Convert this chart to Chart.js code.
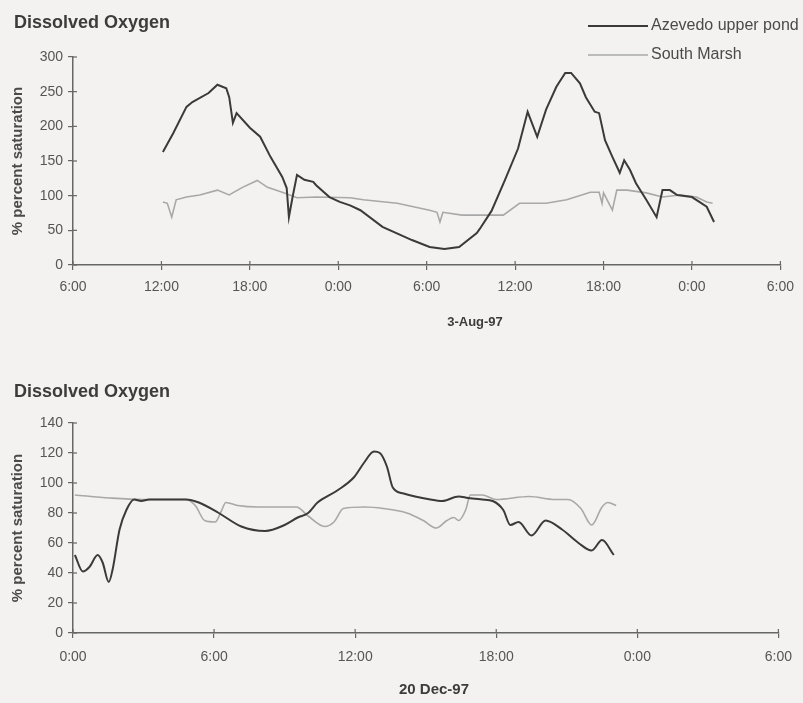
<!DOCTYPE html>
<html>
<head>
<meta charset="utf-8">
<script src="https://cdn.jsdelivr.net/npm/chart.js@4.4.1/dist/chart.umd.min.js"></script>
<style>
    html, body { margin: 0; padding: 0; background: #f3f2f0; }
    #page { position: relative; width: 803px; height: 703px; overflow: hidden; }
    #augWrap { position: absolute; left: 0; top: 0; }
    #decWrap { position: absolute; left: 0; top: 345px; }
</style>
</head>
<body>
<div id="page">
    <div id="augWrap"><canvas id="augChart" width="803" height="345"></canvas></div>
    <div id="decWrap"><canvas id="decChart" width="803" height="358"></canvas></div>
</div>
<script>
// hours counted from 0:00 of the first day shown
const augPondHours  = [12.1, 12.8, 13.7, 14.1, 15.2, 15.8, 16.4, 16.6, 16.85, 17.1, 18.0, 18.7, 19.4, 20.2, 20.5, 20.65, 20.9, 21.2, 21.7, 22.3, 22.5, 23.4, 24.1, 24.8, 25.5, 27.0, 29.0, 30.2, 31.2, 32.2, 33.4, 33.6, 34.4, 35.3, 36.2, 36.85, 37.5, 38.1, 38.8, 39.4, 39.8, 40.4, 40.8, 41.4, 41.7, 42.1, 42.6, 43.1, 43.4, 43.8, 44.2, 44.9, 45.6, 46.0, 46.5, 47.0, 48.0, 49.0, 49.5];
const augPondDO     = [163, 190, 228, 235, 248, 260, 255, 242, 205, 219, 198, 185, 156, 127, 111, 69, 98, 130, 123, 120, 115, 98, 91, 86, 79, 55, 36, 26, 23, 26, 46, 52, 78, 122, 168, 221, 185, 224, 257, 277, 277, 262, 242, 221, 219, 180, 156, 133, 151, 137, 118, 94, 69, 108, 108, 101, 98, 84, 62];
const augMarshHours = [12.1, 12.4, 12.7, 13.0, 13.7, 14.6, 15.8, 16.6, 17.5, 18.5, 19.2, 20.2, 21.2, 22.5, 24.8, 25.7, 28.0, 30.2, 30.7, 30.9, 31.1, 32.4, 34.3, 35.2, 36.3, 38.1, 39.5, 41.1, 41.7, 41.9, 42.0, 42.6, 42.9, 43.6, 44.9, 46.0, 47.2, 48.3, 49.0, 49.4];
const augMarshDO    = [91, 89, 69, 94, 98, 101, 108, 101, 112, 122, 112, 105, 97, 98, 97, 94, 89, 79, 76, 62, 76, 72, 72, 72, 89, 89, 94, 105, 105, 89, 104, 79, 108, 108, 104, 98, 101, 98, 91, 89];

const decPondHours  = [0.08, 0.42, 0.7, 1.05, 1.26, 1.52, 1.68, 1.98, 2.27, 2.6, 2.9, 3.24, 4.4, 4.8, 5.35, 6.2, 7.16, 8.17, 9.0, 9.56, 10.0, 10.4, 11.24, 11.96, 12.4, 12.8, 13.05, 13.35, 13.6, 14.06, 15.2, 15.7, 16.4, 16.8, 17.4, 17.85, 18.3, 18.6, 18.95, 19.5, 20.1, 20.8, 21.5, 22.06, 22.5, 23.0];
const decPondDO     = [52, 41, 44, 52, 47, 34, 42, 69, 82, 89, 88, 89, 89, 89, 87, 80, 71, 68, 72, 77, 80, 87, 95, 104, 114, 121, 120, 111, 97, 93, 89, 88, 91, 90, 89, 88, 82, 72, 74, 65, 75, 69, 60, 55, 62, 52];
const decMarshHours = [0.08, 1.56, 2.95, 4.8, 5.2, 5.6, 6.05, 6.3, 6.5, 7.0, 7.9, 9.5, 10.0, 10.7, 11.1, 11.5, 12.4, 13.2, 14.2, 14.9, 15.45, 15.9, 16.2, 16.4, 16.7, 16.9, 17.4, 18.0, 19.4, 20.5, 21.05, 21.6, 22.06, 22.5, 22.75, 23.1];
const decMarshDO    = [92, 90, 89, 89, 85, 75, 74, 81, 87, 85, 84, 84, 78, 71, 74, 83, 84, 83, 80, 75, 70, 75, 77, 75, 82, 92, 92, 89, 91, 89, 89, 83, 72, 84, 87, 85];

const seriesNames = ['Azevedo upper pond', 'South Marsh'];
const pondColor = '#3a3a3a';
const marshColor = '#a8a8a8';
const textColor = '#4a4a4a';
const fontFamily = '"Liberation Sans", Arial, sans-serif';

function toPoints(hours, values) {
    return hours.map((h, i) => ({ x: h, y: values[i] }));
}

function hourLabel(value) {
    return (value % 24) + ':00';
}

// labels drawn straight onto the canvas: title, date under the axis, legend
const decorations = {
    id: 'decorations',
    afterDraw(chart, args, opts) {
        const ctx = chart.ctx;
        ctx.save();
        ctx.fillStyle = '#3c3c3c';
        ctx.textBaseline = 'middle';

        ctx.font = 'bold 18px ' + fontFamily;
        ctx.textAlign = 'left';
        ctx.fillText(opts.title, 14, opts.titleY);

        ctx.font = 'bold ' + opts.dateSize + 'px ' + fontFamily;
        ctx.textAlign = 'center';
        ctx.fillText(opts.dateText, opts.dateX, opts.dateY);

        if (opts.legend) {
            ctx.font = '16px ' + fontFamily;
            ctx.textAlign = 'left';
            ctx.fillStyle = textColor;
            chart.data.datasets.forEach((ds, i) => {
                const y = 26 + i * 29;
                ctx.strokeStyle = ds.borderColor;
                ctx.lineWidth = ds.borderWidth;
                ctx.beginPath();
                ctx.moveTo(588, y);
                ctx.lineTo(648, y);
                ctx.stroke();
                ctx.fillText(ds.label, 651, y);
            });
        }

        // tick marks poke into the plot area as well
        const area = chart.chartArea;
        ctx.strokeStyle = '#666';
        ctx.lineWidth = 1.2;
        const xs = chart.scales.x;
        xs.ticks.forEach((t, i) => {
            const px = xs.getPixelForTick(i);
            ctx.beginPath();
            ctx.moveTo(px, area.bottom - 4);
            ctx.lineTo(px, area.bottom);
            ctx.stroke();
        });
        const ys = chart.scales.y;
        ys.ticks.forEach((t, i) => {
            const py = ys.getPixelForTick(i);
            ctx.beginPath();
            ctx.moveTo(area.left, py);
            ctx.lineTo(area.left + 4, py);
            ctx.stroke();
        });
        ctx.restore();
    }
};

function makeChart(canvasId, cfg) {
    const ctx = document.getElementById(canvasId).getContext('2d');
    return new Chart(ctx, {
        type: 'line',
        data: {
            datasets: [{
                label: seriesNames[0],
                data: toPoints(cfg.pondHours, cfg.pondValues),
                borderColor: pondColor,
                borderWidth: 2,
                pointRadius: 0,
                tension: cfg.tension,
                cubicInterpolationMode: cfg.tension ? 'monotone' : 'default'
            }, {
                label: seriesNames[1],
                data: toPoints(cfg.marshHours, cfg.marshValues),
                borderColor: marshColor,
                borderWidth: 1.6,
                pointRadius: 0,
                tension: cfg.tension,
                cubicInterpolationMode: cfg.tension ? 'monotone' : 'default'
            }]
        },
        options: {
            responsive: false,
            animation: false,
            layout: { padding: cfg.padding },
            plugins: {
                legend: { display: false },
                tooltip: { enabled: false },
                decorations: cfg.decorations
            },
            scales: {
                x: {
                    type: 'linear',
                    min: cfg.xMin,
                    max: cfg.xMax,
                    afterFit: s => { s.height = 30; },
                    afterBuildTicks: s => {
                        s.ticks = [];
                        for (let v = cfg.xMin; v <= cfg.xMax; v += 6) s.ticks.push({ value: v });
                    },
                    ticks: {
                        callback: hourLabel,
                        color: '#555',
                        padding: cfg.xTickPad,
                        maxRotation: 0,
                        font: { family: fontFamily, size: 14 }
                    },
                    grid: { drawOnChartArea: false, tickLength: 5, color: '#666', lineWidth: 1.2 },
                    border: { color: '#666', width: 1.5 }
                },
                y: {
                    min: 0,
                    max: cfg.yMax,
                    afterFit: s => { s.width = 73; },
                    ticks: {
                        stepSize: cfg.yStep,
                        color: '#555',
                        padding: 5,
                        font: { family: fontFamily, size: 14 }
                    },
                    title: {
                        display: true,
                        text: '% percent saturation',
                        color: textColor,
                        padding: { top: 9, bottom: 0 },
                        font: { family: fontFamily, size: 15, weight: 'bold' }
                    },
                    grid: { drawOnChartArea: false, tickLength: 5, color: '#666', lineWidth: 1.2 },
                    border: { color: '#666', width: 1.5 }
                }
            }
        },
        plugins: [decorations]
    });
}

document.addEventListener('DOMContentLoaded', function() {
    makeChart('augChart', {
        pondHours: augPondHours, pondValues: augPondDO,
        marshHours: augMarshHours, marshValues: augMarshDO,
        tension: 0,
        xMin: 6, xMax: 54, yMax: 300, yStep: 50, xTickPad: 9,
        padding: { left: 0, right: 22, top: 57, bottom: 50 },
        decorations: { title: 'Dissolved Oxygen', titleY: 23, dateText: '3-Aug-97', dateSize: 13, dateX: 475, dateY: 322, legend: true }
    });

    makeChart('decChart', {
        pondHours: decPondHours, pondValues: decPondDO,
        marshHours: decMarshHours, marshValues: decMarshDO,
        tension: 0.4,
        xMin: 0, xMax: 30, yMax: 140, yStep: 20, xTickPad: 11,
        padding: { left: 0, right: 18, top: 78, bottom: 40 },
        decorations: { title: 'Dissolved Oxygen', titleY: 47, dateText: '20 Dec-97', dateSize: 15, dateX: 434, dateY: 345, legend: false }
    });
});
</script>
</body>
</html>
